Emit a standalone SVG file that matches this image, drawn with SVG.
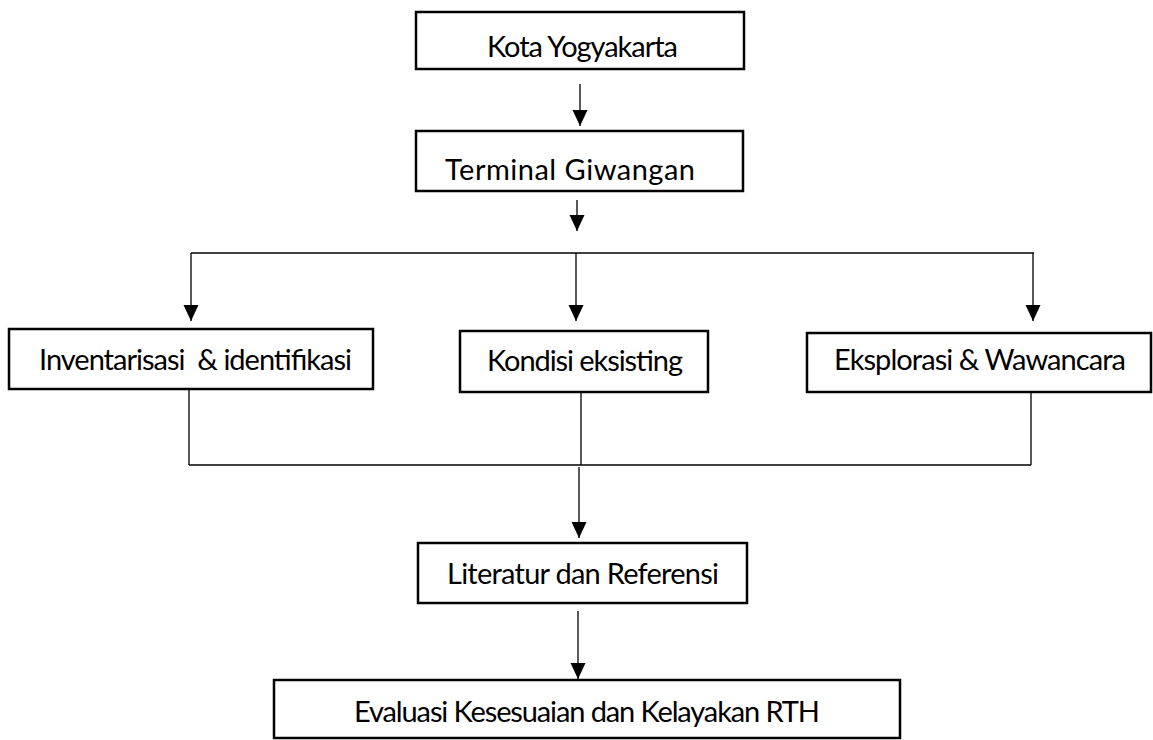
<svg xmlns="http://www.w3.org/2000/svg" width="1153" height="740" viewBox="0 0 1153 740">
<style>
.box{fill:#fff;stroke:#000;stroke-width:2.5}
.lbl{font-family:Lato,"Open Sans","Liberation Sans",sans-serif;font-size:29px;fill:#000;text-anchor:middle}
.ln{fill:none;stroke:#000;stroke-width:1.3}
.ar{fill:none;stroke:#000;stroke-width:1.3;marker-end:url(#ah)}
</style>
<defs>
<marker id="ah" markerUnits="userSpaceOnUse" markerWidth="16" markerHeight="16" refX="16" refY="7.5" orient="auto" viewBox="0 0 16 15">
<path d="M0,0 L16,7.5 L0,15 z" fill="#000"/>
</marker>
</defs>
<rect width="1153" height="740" fill="#fff"/>
<g id="connectors">
<line class="ar" x1="580" y1="84" x2="580" y2="126"/>
<line class="ar" x1="577" y1="200" x2="577" y2="231"/>
<line class="ln" x1="191" y1="253" x2="1034" y2="253"/>
<line class="ar" x1="191" y1="253" x2="191" y2="321"/>
<line class="ar" x1="576" y1="253" x2="576" y2="321"/>
<line class="ar" x1="1033" y1="253" x2="1033" y2="321"/>
<line class="ln" x1="189" y1="389" x2="189" y2="465"/>
<line class="ln" x1="581" y1="392" x2="581" y2="465"/>
<line class="ln" x1="1031" y1="392" x2="1031" y2="465"/>
<line class="ln" x1="189" y1="465" x2="1031" y2="465"/>
<line class="ar" x1="579" y1="467" x2="579" y2="538"/>
<line class="ar" x1="578" y1="611" x2="578" y2="679"/>
</g>
<g id="kota">
<rect class="box" x="416" y="12" width="328" height="57"/>
<text class="lbl" x="582.5" y="57" textLength="191">Kota Yogyakarta</text>
</g>
<g id="terminal">
<rect class="box" x="416" y="131" width="327" height="60"/>
<text class="lbl" x="570" y="180" font-size="31" textLength="250">Terminal Giwangan</text>
</g>
<g id="inventarisasi">
<rect class="box" x="9" y="329" width="364" height="60"/>
<text class="lbl" x="195.5" y="370" textLength="313" xml:space="preserve">Inventarisasi  &amp; identifikasi</text>
</g>
<g id="kondisi">
<rect class="box" x="460" y="331" width="248" height="61"/>
<text class="lbl" x="585" y="371" textLength="196">Kondisi eksisting</text>
</g>
<g id="eksplorasi">
<rect class="box" x="807" y="333" width="344" height="59"/>
<text class="lbl" x="980" y="370" textLength="292">Eksplorasi &amp; Wawancara</text>
</g>
<g id="literatur">
<rect class="box" x="418" y="543" width="329" height="60"/>
<text class="lbl" x="583" y="584" textLength="272">Literatur dan Referensi</text>
</g>
<g id="evaluasi">
<rect class="box" x="274" y="680" width="626" height="58"/>
<text class="lbl" x="587" y="722" textLength="466">Evaluasi Kesesuaian dan Kelayakan RTH</text>
</g>
</svg>
